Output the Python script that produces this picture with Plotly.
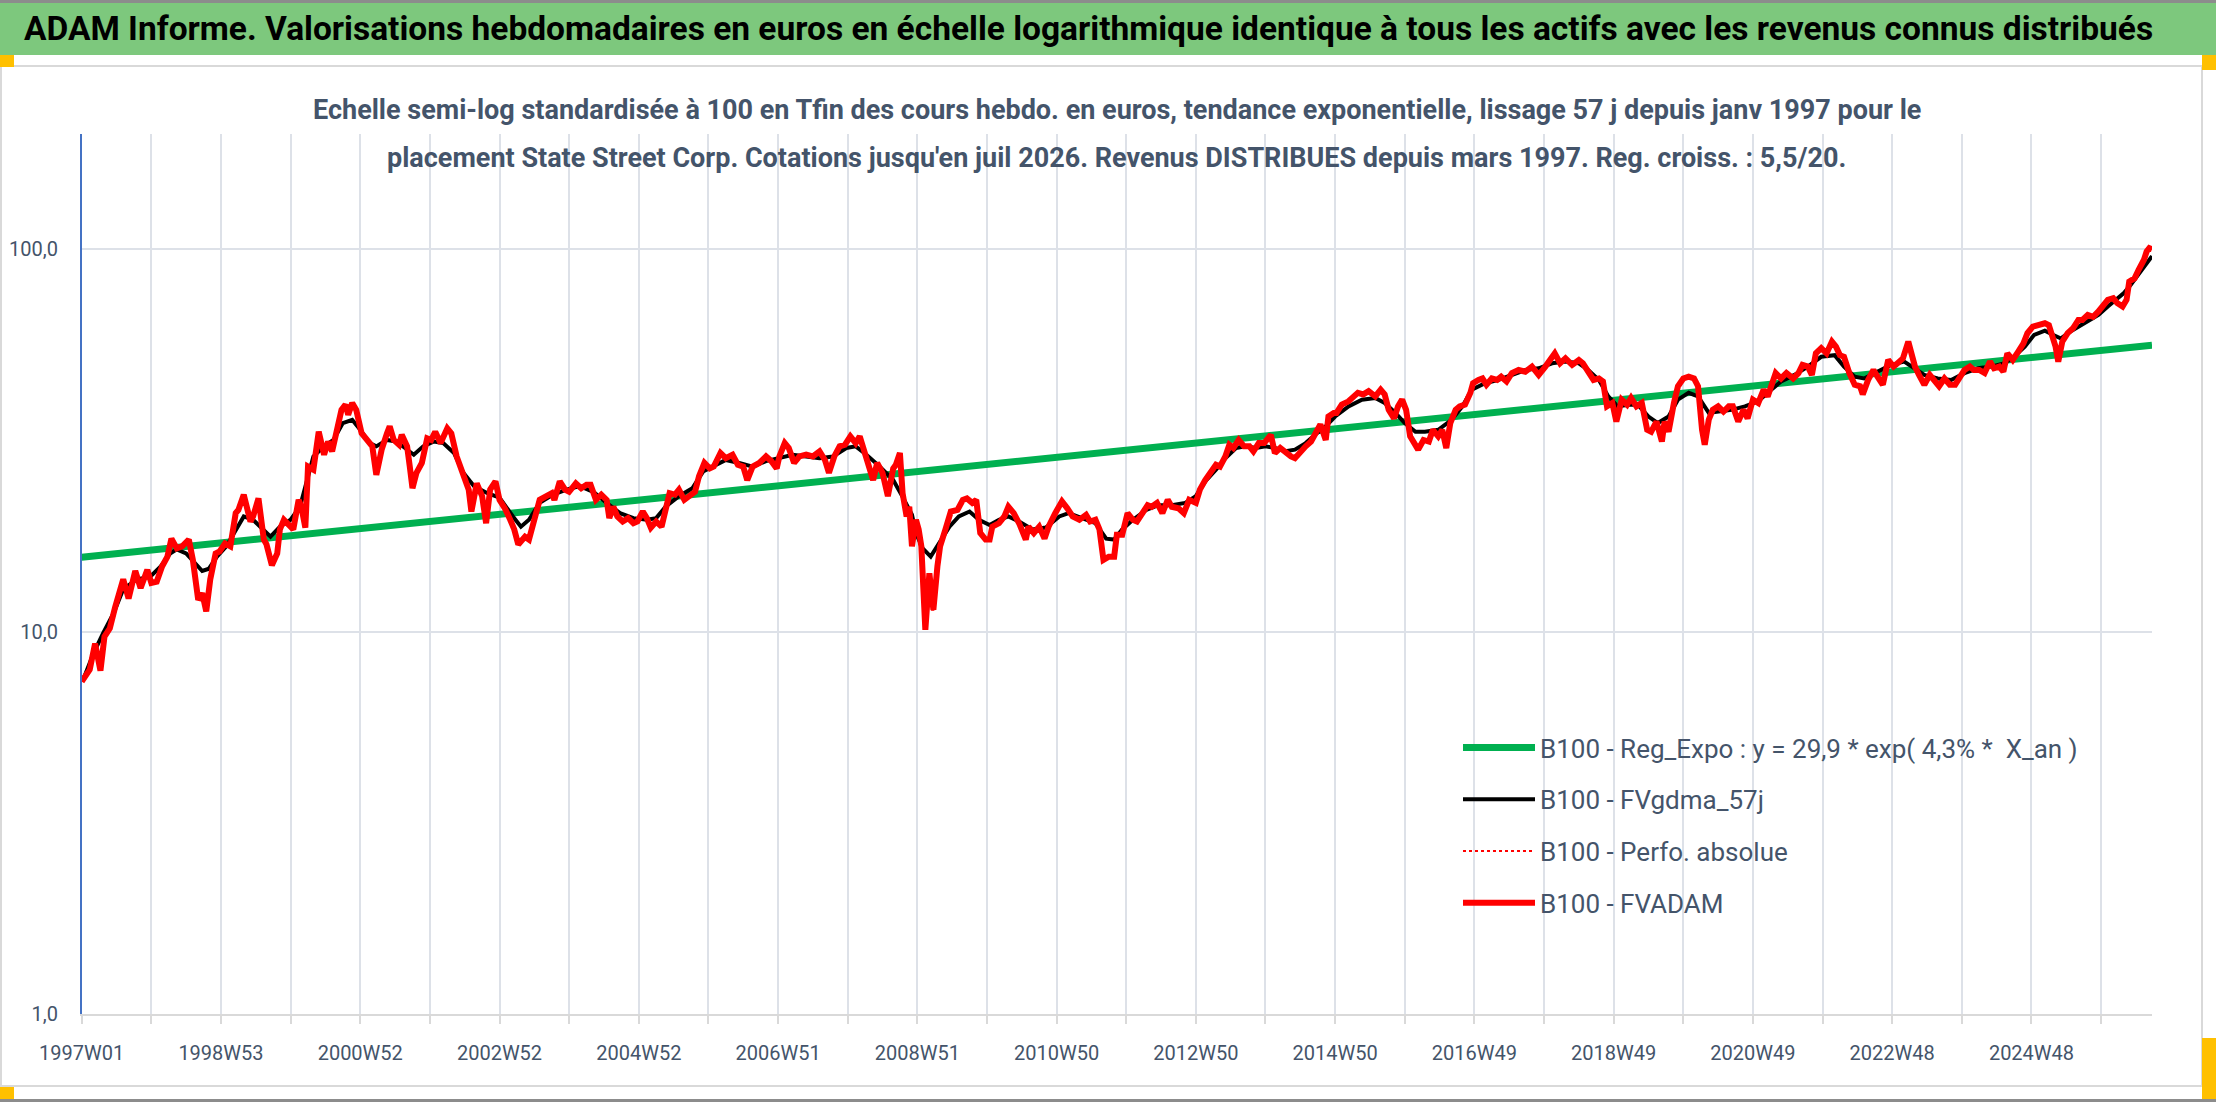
import plotly.graph_objects as go

# Weekly index (0 = 1997W01) (base 100 at the end)
red_weeks = [0, 6, 10, 14, 17, 21, 25, 31, 35, 40, 44, 49, 52, 56, 60, 64, 67, 71, 75, 80,
             83, 87, 90, 93, 96, 100, 103, 107, 111, 115, 117, 121, 126, 128, 132, 136, 138, 142, 146, 148,
             151, 156, 158, 162, 164, 167, 169, 173, 177, 181, 184, 187, 191, 194, 197, 199, 202, 205, 209, 213,
             217, 220, 224, 228, 230, 233, 237, 239, 243, 245, 247, 250, 254, 258, 261, 264, 268, 273, 276, 280,
             285, 289, 291, 295, 299, 302, 305, 309, 312, 316, 320, 323, 326, 331, 334, 338, 342, 347, 351, 353,
             357, 361, 364, 369, 373, 377, 380, 384, 388, 392, 394, 397, 400, 404, 408, 412, 415, 419, 422, 425,
             429, 433, 435, 439, 443, 446, 450, 454, 458, 461, 465, 469, 472, 477, 481, 486, 490, 494, 497, 501,
             506, 511, 515, 519, 521, 525, 528, 532, 536, 541, 546, 551, 555, 558, 562, 566, 570, 574, 578, 581,
             584, 587, 591, 594, 598, 602, 606, 608, 611, 613, 616, 618, 620, 623, 625, 627, 629, 630, 633, 635,
             636, 639, 641, 645, 649, 654, 658, 661, 665, 668, 671, 675, 678, 680, 685, 689, 692, 696, 700, 705,
             707, 711, 715, 719, 722, 727, 732, 736, 740, 745, 750, 753, 757, 760, 763, 767, 771, 773, 777, 781,
             785, 788, 792, 796, 799, 803, 807, 811, 814, 819, 823, 827, 832, 835, 839, 843, 847, 850, 854, 857,
             860, 864, 868, 872, 875, 879, 883, 888, 891, 895, 899, 903, 906, 910, 914, 918, 921, 925, 929, 931,
             935, 937, 941, 946, 950, 953, 957, 961, 966, 970, 973, 976, 980, 983, 986, 989, 992, 996, 998, 1002,
             1006, 1009, 1013, 1016, 1019, 1022, 1026, 1029, 1033, 1037, 1039, 1043, 1046, 1049, 1053, 1057, 1060, 1064, 1068, 1073,
             1078, 1083, 1088, 1093, 1096, 1100, 1104, 1108, 1113, 1118, 1121, 1125, 1129, 1133, 1136, 1139, 1143, 1146, 1150, 1154,
             1157, 1161, 1165, 1169, 1172, 1176, 1180, 1182, 1185, 1189, 1192, 1196, 1200, 1204, 1207, 1210, 1212, 1215, 1218, 1222,
             1226, 1230, 1233, 1237, 1241, 1244, 1248, 1252, 1256, 1259, 1263, 1265, 1269, 1273, 1278, 1282, 1285, 1289, 1292, 1295,
             1299, 1303, 1307, 1310, 1313, 1316, 1320, 1324, 1328, 1330, 1334, 1338, 1341, 1345, 1349, 1353, 1356, 1360, 1364, 1366,
             1369, 1372, 1376, 1380, 1384, 1387, 1391, 1395, 1399, 1402, 1406, 1410, 1413, 1417, 1421, 1425, 1428, 1432, 1435, 1438,
             1442, 1446, 1450, 1453, 1457, 1461, 1466, 1469, 1472, 1474, 1476, 1479, 1483, 1487, 1491, 1494, 1498, 1502, 1506, 1509,
             1513, 1517, 1520, 1524, 1527, 1529, 1533, 1536, 1540, 1542, 1544, 1546]
red_vals = [7.4, 7.95, 9.3, 7.9, 9.7, 10.2, 11.6, 13.7, 12.2, 14.4, 13.0, 14.5, 13.4, 13.5, 14.8, 15.7, 17.5, 16.5, 16.7, 17.4,
            15.4, 12.1, 12.6, 11.3, 13.7, 16.0, 16.2, 17.0, 16.7, 20.4, 20.8, 22.8, 19.4, 20.0, 22.3, 17.4, 16.9, 14.9, 16.0, 18.5,
            19.6, 18.7, 18.5, 22.1, 21.2, 18.7, 27.0, 26.5, 33.3, 29.0, 31.4, 29.6, 34.4, 38.0, 39.2, 36.9, 39.6, 38.0, 33.0, 31.7,
            30.5, 25.7, 29.9, 33.0, 34.4, 31.7, 30.8, 32.7, 30.5, 27.0, 23.7, 26.0, 27.6, 32.0, 31.7, 33.3, 31.1, 34.0, 33.0, 28.7,
            25.5, 23.5, 20.6, 24.4, 22.6, 19.2, 23.5, 24.7, 22.1, 21.0, 19.6, 18.5, 16.9, 17.7, 17.4, 20.0, 22.1, 22.6, 23.0, 22.1,
            24.7, 23.5, 23.2, 24.4, 23.7, 24.2, 24.2, 22.1, 22.8, 22.1, 19.8, 21.2, 20.0, 19.4, 19.8, 19.2, 19.4, 20.6, 19.8, 18.7,
            19.4, 18.8, 20.2, 23.0, 22.8, 23.5, 22.1, 22.6, 23.2, 25.5, 27.6, 26.7, 27.0, 29.3, 28.4, 29.0, 27.3, 27.0, 24.9, 27.0,
            27.6, 28.7, 27.9, 26.7, 28.7, 31.1, 30.2, 27.6, 28.7, 29.0, 28.7, 29.6, 28.1, 26.0, 28.7, 30.5, 30.8, 32.4, 31.1, 32.4,
            29.9, 28.1, 24.9, 27.6, 26.0, 22.6, 26.7, 27.3, 29.3, 23.0, 20.0, 21.2, 16.7, 19.6, 18.5, 16.7, 10.2, 10.1, 14.2, 11.4,
            11.4, 14.8, 16.7, 18.5, 20.6, 20.8, 22.1, 22.3, 21.7, 22.1, 18.1, 17.4, 17.4, 18.8, 19.2, 20.0, 21.2, 20.4, 19.2, 17.4,
            18.8, 18.1, 18.8, 17.5, 18.8, 20.4, 21.9, 21.0, 20.0, 19.6, 20.2, 19.4, 19.6, 18.5, 15.4, 15.7, 15.7, 17.9, 17.9, 20.4,
            19.6, 19.4, 20.4, 21.4, 21.2, 21.7, 20.4, 22.1, 21.2, 21.0, 20.4, 22.1, 21.7, 23.5, 24.9, 26.0, 27.3, 27.0, 28.7, 30.8,
            30.2, 31.7, 30.5, 30.5, 29.6, 31.1, 31.1, 32.7, 29.3, 30.2, 29.3, 28.7, 28.4, 29.6, 30.5, 31.4, 32.7, 34.8, 31.7, 36.5,
            37.3, 37.3, 39.2, 40.0, 41.2, 42.1, 41.7, 42.5, 41.2, 42.9, 41.7, 38.0, 36.1, 38.8, 40.4, 38.0, 32.4, 30.5, 29.9, 31.7,
            31.4, 33.7, 32.4, 33.7, 30.2, 35.1, 38.0, 38.8, 39.2, 42.1, 44.6, 45.5, 45.9, 44.2, 45.9, 45.5, 46.4, 45.1, 47.4, 48.3,
            47.8, 49.3, 46.9, 49.3, 51.3, 53.4, 50.3, 51.8, 49.8, 51.3, 50.3, 47.8, 45.5, 45.9, 45.1, 38.8, 39.6, 35.4, 40.4, 39.2,
            40.8, 38.8, 39.6, 33.7, 33.3, 35.4, 31.4, 35.4, 33.3, 39.6, 43.8, 45.9, 46.4, 45.9, 43.8, 33.7, 30.8, 35.8, 38.0, 38.8,
            37.6, 38.8, 38.8, 35.4, 38.0, 36.1, 40.4, 39.6, 42.9, 41.2, 45.1, 47.4, 45.9, 47.4, 45.9, 47.4, 49.8, 49.3, 46.9, 53.4,
            55.1, 53.4, 57.3, 55.6, 52.8, 52.3, 47.4, 44.2, 43.8, 41.7, 45.5, 48.3, 46.4, 44.2, 51.3, 49.3, 50.3, 51.8, 57.3, 53.9,
            49.3, 46.9, 44.2, 46.9, 45.1, 43.8, 45.9, 44.2, 44.2, 45.9, 48.3, 49.3, 48.3, 48.3, 47.4, 50.8, 48.8, 49.3, 47.8, 53.4,
            51.3, 53.9, 56.7, 60.3, 62.7, 63.3, 64.0, 63.3, 59.1, 55.6, 50.8, 57.3, 60.3, 62.1, 65.3, 65.3, 67.3, 66.5, 68.7, 70.8,
            73.7, 74.4, 72.3, 70.8, 73.7, 82.3, 83.9, 88.3, 93.8, 98.6, 100.6, 100.0]

black_weeks = [1, 9, 16, 24, 31, 41, 51, 59, 66, 71, 78, 85, 90, 95, 101, 108, 116, 121, 128, 136,
               141, 148, 156, 163, 168, 173, 181, 188, 195, 202, 208, 215, 220, 228, 235, 243, 248, 255, 263, 270,
               278, 285, 293, 303, 312, 322, 328, 334, 342, 352, 362, 372, 382, 392, 402, 412, 422, 429, 436, 446,
               456, 464, 471, 481, 491, 501, 511, 521, 531, 541, 551, 561, 571, 578, 586, 596, 606, 613, 620, 623,
               628, 634, 640, 648, 655, 663, 670, 678, 685, 692, 700, 710, 720, 730, 737, 747, 757, 765, 771, 777,
               785, 795, 804, 814, 824, 832, 839, 847, 854, 862, 869, 877, 884, 891, 899, 906, 914, 921, 929, 936,
               946, 956, 966, 973, 981, 988, 996, 1003, 1013, 1023, 1031, 1038, 1048, 1058, 1068, 1078, 1088, 1098, 1108, 1118,
               1125, 1133, 1140, 1147, 1155, 1162, 1170, 1177, 1185, 1192, 1200, 1207, 1215, 1222, 1232, 1242, 1252, 1259, 1269, 1279,
               1289, 1299, 1309, 1316, 1324, 1331, 1341, 1351, 1361, 1369, 1376, 1386, 1396, 1406, 1416, 1426, 1436, 1443, 1451, 1458,
               1466, 1472, 1478, 1486, 1496, 1506, 1513, 1520, 1525, 1530, 1538, 1546]
black_vals = [7.47, 8.8, 9.9, 11.2, 12.9, 13.7, 13.9, 14.8, 16.0, 16.4, 16.0, 15.1, 14.4, 14.6, 15.7, 16.7, 18.8, 20.0, 19.6, 18.5,
              17.7, 18.8, 19.6, 21.2, 24.9, 28.7, 30.5, 31.7, 35.1, 35.8, 33.7, 31.1, 30.5, 31.7, 31.4, 29.9, 29.0, 30.5, 31.4, 31.1,
              29.3, 26.0, 24.0, 23.0, 22.4, 20.0, 18.8, 19.6, 21.7, 22.8, 23.5, 24.0, 23.2, 21.7, 20.4, 19.8, 19.6, 19.8, 21.2, 22.6,
              23.7, 26.2, 27.0, 28.1, 27.6, 27.0, 27.9, 28.4, 29.0, 28.7, 28.4, 28.7, 30.2, 30.5, 29.0, 27.0, 24.9, 22.5, 20.2, 18.1,
              16.5, 15.7, 17.0, 18.8, 20.0, 20.6, 19.6, 19.0, 19.6, 20.0, 19.4, 18.5, 18.7, 20.0, 20.4, 19.8, 19.2, 17.5, 17.4, 18.5,
              19.6, 20.8, 21.4, 21.4, 21.7, 22.6, 24.7, 26.5, 28.4, 30.2, 30.5, 30.2, 30.5, 30.2, 29.6, 29.9, 31.1, 32.7, 34.4, 36.5,
              38.8, 40.4, 40.8, 39.6, 37.3, 35.1, 33.3, 33.3, 33.7, 35.8, 38.8, 42.9, 44.6, 45.5, 46.9, 48.3, 48.8, 50.3, 50.8, 50.3,
              48.3, 45.5, 41.2, 38.8, 39.2, 39.2, 36.5, 35.1, 36.5, 40.4, 42.1, 41.2, 37.3, 37.6, 38.0, 38.8, 40.0, 42.1, 45.1, 46.9,
              49.3, 52.3, 52.8, 49.3, 46.4, 45.9, 47.8, 49.8, 50.8, 48.8, 46.9, 45.9, 45.5, 47.4, 48.8, 49.3, 50.3, 52.3, 55.6, 59.7,
              61.2, 59.7, 58.4, 61.2, 64.0, 67.3, 70.8, 74.4, 76.8, 80.6, 88.3, 95.9]

# exponential regression line: start and end values
reg_weeks = [0, 1546]
reg_vals = [15.65, 56.1]

tick_weeks = list(range(0, 1509, 52))
tick_labels = ['1997W01', '', '1998W53', '', '2000W52', '', '2002W52', '', '2004W52', '', '2006W51', '',
               '2008W51', '', '2010W50', '', '2012W50', '', '2014W50', '', '2016W49', '', '2018W49', '',
               '2020W49', '', '2022W48', '', '2024W48', '']

W, H = 2216, 1102
FONT = 'Liberation Sans Narrow, Arial Narrow, Roboto, sans-serif'
GREY = '#44546A'
GRID = '#DDE1E8'

fig = go.Figure()
fig.add_trace(go.Scatter(x=reg_weeks, y=reg_vals, mode='lines', legendgroup='a',
                         name='B100 - Reg_Expo : y = 29,9 * exp( 4,3% *  X_an )',
                         line=dict(color='#00B050', width=7)))
fig.add_trace(go.Scatter(x=black_weeks, y=black_vals, mode='lines', legendgroup='b',
                         name='B100 - FVgdma_57j', line=dict(color='black', width=4)))
fig.add_trace(go.Scatter(x=red_weeks, y=red_vals, mode='lines', legendgroup='c',
                         name='B100 - Perfo. absolue', line=dict(color='#FF0000', width=2, dash='dot')))
fig.add_trace(go.Scatter(x=red_weeks, y=red_vals, mode='lines', legendgroup='d',
                         name='B100 - FVADAM', line=dict(color='#FF0000', width=6)))


def px(x):
    return x / W


def py(y):
    return 1 - y / H


shapes = [
    dict(type='rect', x0=0, x1=1, y0=py(3), y1=1, fillcolor='#8C8C8C', line_width=0),
    dict(type='rect', x0=0, x1=1, y0=py(55), y1=py(3), fillcolor='#7DC87D', line_width=0),
    dict(type='rect', x0=px(1), x1=px(2202), y0=py(1086), y1=py(66), line=dict(color='#D9D9D9', width=2)),
    dict(type='rect', x0=0, x1=px(14), y0=py(67), y1=py(55), fillcolor='#FFC000', line_width=0),
    dict(type='rect', x0=px(2202), x1=1, y0=py(70), y1=py(55), fillcolor='#FFC000', line_width=0),
    dict(type='rect', x0=0, x1=px(14), y0=py(1099), y1=py(1087), fillcolor='#FFC000', line_width=0),
    dict(type='rect', x0=px(2202), x1=1, y0=py(1099), y1=py(1038), fillcolor='#FFC000', line_width=0),
    dict(type='rect', x0=0, x1=1, y0=0, y1=py(1099), fillcolor='#8C8C8C', line_width=0),
]
for s in shapes:
    s.update(xref='paper', yref='paper', layer='below')

annotations = [
    dict(text='<b>ADAM Informe. Valorisations hebdomadaires en euros en échelle logarithmique identique à tous les actifs avec les revenus connus distribués</b>',
         x=px(1088), y=py(29), font=dict(size=33.5, color='black', family=FONT)),
    dict(text='<b>Echelle semi-log standardisée à 100 en Tfin des cours hebdo. en euros, tendance exponentielle, lissage 57 j depuis janv 1997 pour le</b>',
         x=px(1117), y=py(110), font=dict(size=27, color=GREY, family=FONT)),
    dict(text='<b>placement State Street Corp. Cotations jusqu\'en juil 2026. Revenus DISTRIBUES depuis mars 1997. Reg. croiss. : 5,5/20.</b>',
         x=px(1117), y=py(158), font=dict(size=27, color=GREY, family=FONT)),
]
for a in annotations:
    a.update(xref='paper', yref='paper', showarrow=False, xanchor='center', yanchor='middle')

fig.update_layout(
    template='none',
    width=W, height=H, autosize=False,
    margin=dict(l=0, r=0, t=0, b=0, pad=0, autoexpand=False),
    paper_bgcolor='white', plot_bgcolor='white',
    font=dict(family=FONT, size=20, color=GREY),
    shapes=shapes, annotations=annotations,
    showlegend=True,
    legend=dict(x=px(1458), y=py(724), xanchor='left', yanchor='top',
                font=dict(size=26, color=GREY, family=FONT),
                tracegroupgap=15, itemwidth=72, bgcolor='rgba(0,0,0,0)', borderwidth=0),
    xaxis=dict(domain=[px(81.7), px(2152)], range=[0, 1546], automargin=False,
               tickmode='array', tickvals=tick_weeks, ticktext=tick_labels,
               showgrid=True, gridcolor=GRID, gridwidth=2, zeroline=False,
               showline=True, linecolor='#D9D9D9', linewidth=2,
               ticks='outside', ticklen=8, tickwidth=2, tickcolor='#D9D9D9',
               ticklabelstandoff=12, tickfont=dict(size=20, color=GREY)),
    yaxis=dict(domain=[py(1014), py(134)], type='log', range=[0, 2.30103], automargin=False,
               tickmode='array', tickvals=[1, 10, 100], ticktext=['1,0', '10,0', '100,0'],
               showgrid=True, gridcolor=GRID, gridwidth=2, zeroline=False,
               showline=True, linecolor='#4472C4', linewidth=1.5, ticks='',
               ticklabelstandoff=18, tickfont=dict(size=20, color=GREY)),
)

fig.write_html("out.html", config={'displayModeBar': False},
               post_script="document.body.style.margin='0';")
